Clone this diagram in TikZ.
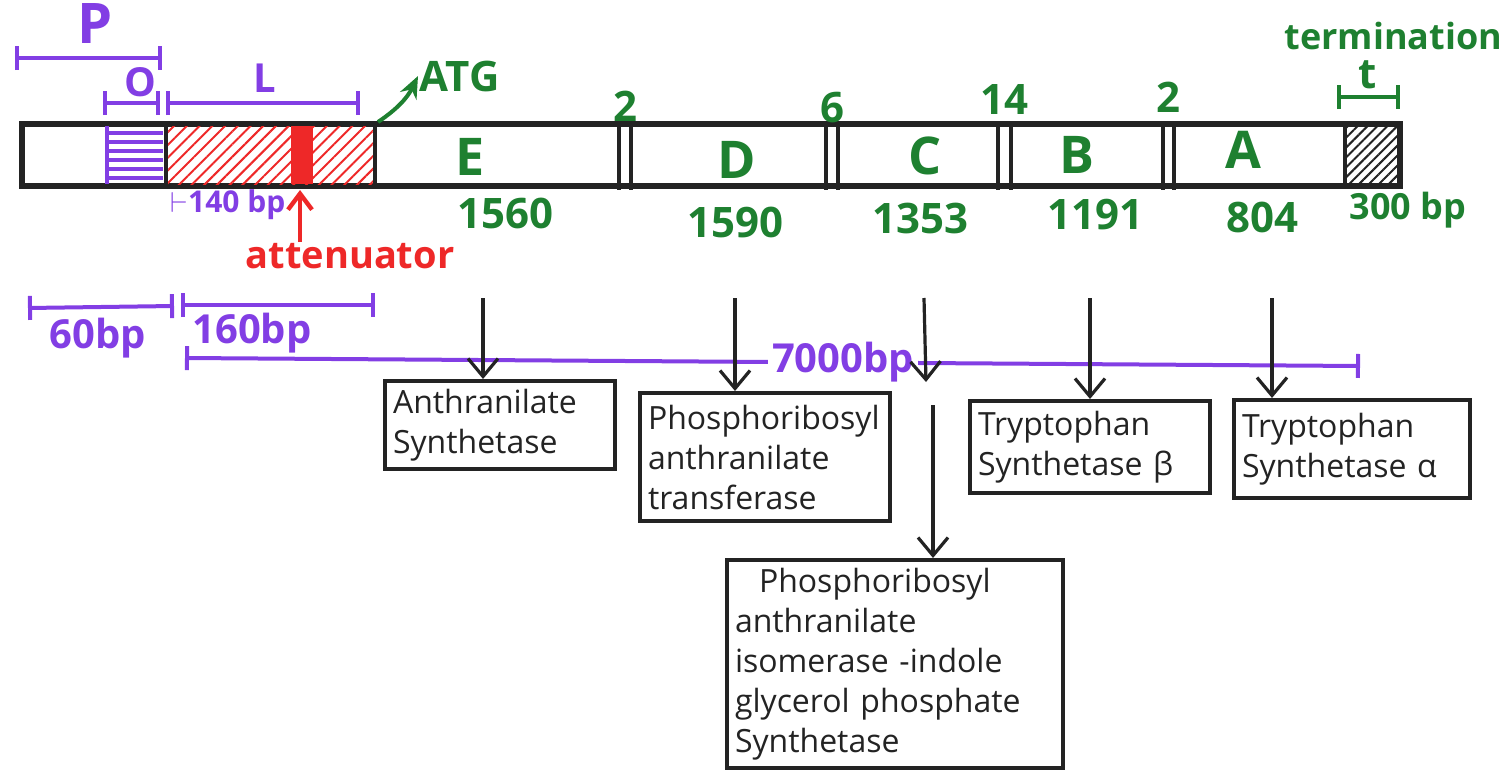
\documentclass[tikz,border=0pt]{standalone}
\usepackage{fontspec}
\setmainfont{Open Sans}
\usepackage{xcolor}
\usetikzlibrary{arrows.meta,patterns.meta}

\definecolor{penpurple}{RGB}{130,62,228}
\definecolor{pengreen}{RGB}{30,128,48}
\definecolor{penred}{RGB}{238,40,40}
\definecolor{penblack}{RGB}{35,35,35}

\begin{document}
\begin{tikzpicture}[x=0.5pt,y=0.5pt,yscale=-1,xscale=1,
  every node/.style={inner sep=0.75pt},
  genelbl/.style={font=\fontsize{26}{30}\selectfont\bfseries,text=pengreen},
  sizelbl/.style={font=\fontsize{21}{25}\selectfont\bfseries,text=pengreen},
  spanlbl/.style={font=\fontsize{20}{24}\selectfont\bfseries,text=penpurple},
  span/.style={draw=penpurple,line width=2pt,{Bar[width=12pt]}-{Bar[width=12pt]}},
  enzyme/.style={draw=penblack,line width=2pt,align=left,inner sep=4pt,
    font=\fontsize{16}{20}\selectfont,text=penblack},
  down/.style={draw=penblack,line width=1.6pt,-{Straight Barb[length=9pt,width=15pt,line width=1.6pt]}}]
\path[use as bounding box] (0,0) rectangle (1511,771);

%Operon bar
\draw [line width=3pt,color=penblack] (22,124) rectangle (1400,186);
%Operator (horizontal lines)
\foreach \y in {133,142,...,178}
  \draw [color=penpurple,line width=1.8pt] (107,\y) -- (163,\y);
\draw [color=penpurple,line width=2pt] (107,126) -- (107,184);
%Leader (hatched) and attenuator band
\fill [pattern={Lines[angle=45,distance=4.5pt,line width=1pt]},pattern color=penred] (166,126) rectangle (375,184);
\fill [color=penred] (291,126) rectangle (313,184);
\draw [line width=2pt,color=penblack] (166,124) -- (166,186);
\draw [line width=2pt,color=penblack] (375,124) -- (375,186);
%Terminator (hatched)
\fill [pattern={Lines[angle=45,distance=3.5pt,line width=1pt]},pattern color=penblack] (1345,126) rectangle (1400,184);
\draw [line width=2pt,color=penblack] (1345,124) -- (1345,186);
%Spacers between genes
\foreach \xa/\xb/\gap/\gy in {619/631/2/106,826/838/6/108,998/1011/14/100,1163/1174/2/97}{
  \draw [line width=2pt,color=penblack] (\xa,124) -- (\xa,190) (\xb,124) -- (\xb,190);
  \node [sizelbl] (gap\xa) at ({(\xa+\xb)/2},\gy) {\gap};
}

% Gene names and lengths
\foreach \nm/\gx/\gy/\len/\lx/\ly in {E/470/157/1560/505/213,D/737/160/1590/735/222,C/925/156/1353/920/218,B/1077/155/1191/1095/215,A/1243/150/804/1262/217}{
  \node [genelbl] (gene\nm) at (\gx,\gy) {\nm};
  \node [sizelbl] (len\nm) at (\lx,\ly) {\len};
}
% Text Node
\node [sizelbl,font=\fontsize{18}{22}\selectfont\bfseries] (lenT) at (1408,210) {300 bp};

%Spans above the bar
\coordinate (p0) at (15,58);
\coordinate (p1) at (162,58);
\draw [span] (p0) -- (p1);
\node [font=\fontsize{28}{32}\selectfont\bfseries,text=penpurple] (plbl) at (95,24) {P};
\coordinate (o0) at (103,103);
\coordinate (o1) at (160,103);
\draw [span] (o0) -- (o1);
\node [spanlbl] (olbl) at (140,82) {O};
\coordinate (l0) at (166,103);
\coordinate (l1) at (360,103);
\draw [span] (l0) -- (l1);
\node [spanlbl] (llbl) at (265,78) {L};
% Text Node
\node [sizelbl,anchor=west] (atg) at (418,76) {ATG};
\coordinate (atgfoot) at (378,122);
\draw [color=pengreen,line width=2pt,-{Stealth[length=11pt,width=9pt]}] (atgfoot) to[bend left=15] (atg.west);
% Text Node
\node [sizelbl,font=\fontsize{18}{22}\selectfont\bfseries,anchor=east] (term) at (1504,36) {termination};
\coordinate (t0) at (1337,97);
\coordinate (t1) at (1400,97);
\draw [span,draw=pengreen] (t0) -- (t1);
\node [sizelbl] (tlbl) at (1368,75) {t};

%Attenuator
\node [font=\fontsize{15}{18}\selectfont\bfseries,text=penpurple] (lead) at (228,205) {$\vdash$140 bp};
\node [font=\fontsize{19}{23}\selectfont\bfseries,text=penred] (attn) at (350,256) {attenuator};
\coordinate (attfoot) at (300,242);
\coordinate (atthead) at (300,190);
\draw [color=penred,line width=2.2pt,-{Straight Barb[length=8pt,width=12pt]}] (attfoot) -- (atthead);

%Length spans below the bar
\coordinate (s0) at (28,308);
\coordinate (s1) at (174,306);
\draw [span] (s0) -- (s1);
\node [spanlbl] (slbl) at (98,338) {60bp};
\coordinate (u0) at (181,305);
\coordinate (u1) at (375,305);
\draw [span] (u0) -- (u1);
\node [spanlbl] (ulbl) at (252,333) {160bp};
\coordinate (w0) at (185,358);
\coordinate (w1) at (1360,366);
\draw [span] (w0) -- node [pos=0.56,fill=white,spanlbl,inner sep=2pt] (wlbl) {7000bp} (w1);

%Enzyme boxes
\node [enzyme,text width=107pt,minimum height=40pt] (anth) at (500,425) {Anthranilate\\Synthetase};
\node [enzyme,text width=117pt,minimum height=64pt] (prat) at (765,457) {Phosphoribosyl\\anthranilate\\transferase};
\node [enzyme,text width=112pt,minimum height=46pt] (trpb) at (1090,447) {Tryptophan\\Synthetase β};
\node [enzyme,text width=110pt,minimum height=49pt] (trpa) at (1352,449) {Tryptophan\\Synthetase α};
\node [enzyme,text width=160pt,minimum height=104pt] (prai) at (895,664) {\hspace*{12pt}Phosphoribosyl\\anthranilate\\isomerase -indole\\glycerol phosphate\\Synthetase};

%Arrows from genes to enzymes
\coordinate (aE) at (483,298);
\draw [down] (aE) -- (aE |- anth.north);
\coordinate (aD) at (735,298);
\draw [down] (aD) -- (aD |- prat.north);
\coordinate (aC) at (924,298);
\coordinate (aCend) at (926,382);
\draw [down] (aC) -- (aCend);
\coordinate (aC2) at (933,405);
\draw [down] (aC2) -- (aC2 |- prai.north);
\coordinate (aB) at (1090,298);
\draw [down] (aB) -- (aB |- trpb.north);
\coordinate (aA) at (1272,298);
\draw [down] (aA) -- (aA |- trpa.north);

\end{tikzpicture}
\end{document}
